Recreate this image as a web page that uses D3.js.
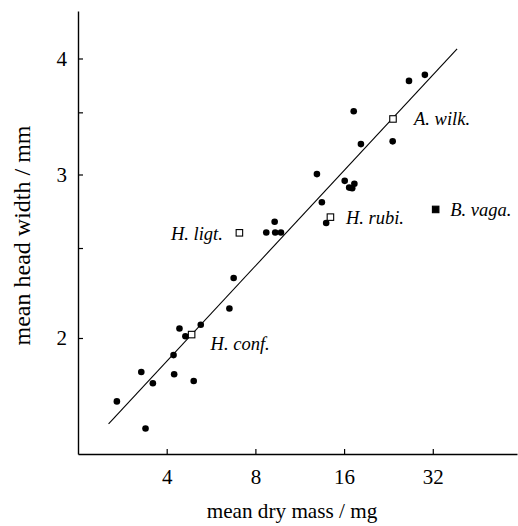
<!DOCTYPE html>
<html><head><meta charset="utf-8">
<script src="https://cdn.jsdelivr.net/npm/d3@7"></script>
<style>
body{margin:0;background:#fff;}
svg{display:block;font-family:"Liberation Serif","Times New Roman",serif;}
</style></head>
<body>
<svg id="chart" width="518" height="526"></svg>
<script>
// species means (filled dots)
const dotMass  = [2.71,3.39,3.28,3.59,4.24,4.94,4.22,4.42,4.63,5.22,6.53,6.75,8.71,9.34,9.77,9.30,13.45,13.91,12.94,16.08,16.65,17.05,17.34,17.25,18.25,23.39,26.57,30.08];
const dotWidth = [1.709,1.598,1.838,1.788,1.828,1.798,1.917,2.048,2.009,2.067,2.152,2.321,2.598,2.598,2.598,2.668,2.800,2.660,3.003,2.953,2.904,2.900,2.932,3.510,3.235,3.257,3.784,3.841];
// labelled species
const namedLabels = ["H. conf.","H. ligt.","H. rubi.","A. wilk.","B. vaga."];
const namedMass   = [4.86,7.06,14.38,23.45,32.73];
const namedWidth  = [2.017,2.596,2.699,3.443,2.751];
const namedFilled = [false,false,false,false,true];
// fitted line endpoints
const fitMass  = [2.54,38.7];
const fitWidth = [1.616,4.097];
// axes
const xTicks = [4,8,16,32];
const yTicks = [2,2.5,3,3.5,4];
const yLabelled = [2,3,4];
const xTitle = "mean dry mass / mg";
const yTitle = "mean head width / mm";

const svg = d3.select("#chart");
const x = d3.scaleLog().base(2).domain([2,61.8]).range([78,517]);
const y = d3.scaleLog().domain([1.5,4.5]).range([454,11]);

const xAxis = d3.axisBottom(x).tickValues(xTicks).tickFormat(d3.format("d"))
  .tickSizeInner(-5).tickSizeOuter(0).tickPadding(15);
const gx = svg.append("g").attr("transform","translate(0,454)").call(xAxis);
const yAxis = d3.axisLeft(y).tickValues(yTicks)
  .tickFormat(d => yLabelled.includes(d) ? d3.format("d")(d) : "")
  .tickSizeInner(-5).tickSizeOuter(0).tickPadding(11);
const gy = svg.append("g").attr("transform","translate(78,0)").call(yAxis);
[gx,gy].forEach(g=>{
  g.selectAll("path.domain").attr("stroke","#000").attr("stroke-width",1.4);
  g.selectAll(".tick line").attr("stroke","#000").attr("stroke-width",1.2);
  g.selectAll(".tick text").attr("font-family","Liberation Serif, serif").attr("font-size",21).attr("fill","#000");
});

svg.append("text").attr("x",292).attr("y",518).attr("text-anchor","middle")
  .attr("font-size",21.2).text(xTitle);
svg.append("text").attr("transform","translate(30,235.5) rotate(-90)").attr("text-anchor","middle")
  .attr("font-size",24).text(yTitle);

// fitted line
const fit = fitMass.map((m,i)=>[m,fitWidth[i]]);
svg.append("path").datum(fit)
  .attr("d", d3.line().x(d=>x(d[0])).y(d=>y(d[1])))
  .attr("fill","none").attr("stroke","#000").attr("stroke-width",1.1);

// dots
svg.append("g").selectAll("circle").data(dotMass.map((m,i)=>[m,dotWidth[i]]))
  .join("circle").attr("cx",d=>x(d[0])).attr("cy",d=>y(d[1])).attr("r",3.3).attr("fill","#000");

// named squares
const named = namedLabels.map((l,i)=>({l,m:namedMass[i],w:namedWidth[i],f:namedFilled[i]}));
const sq = 6.5;
svg.append("g").selectAll("rect").data(named).join("rect")
  .attr("x",d=>x(d.m)-sq/2).attr("y",d=>y(d.w)-sq/2).attr("width",sq).attr("height",sq)
  .attr("fill",d=>d.f?"#000":"#fff").attr("stroke","#000").attr("stroke-width",1.1);

// label placement (offset from marker, anchor)
const labelPlace = {"H. conf.":[19,15,"start"],"H. ligt.":[-16.5,7,"end"],"H. rubi.":[15.5,7,"start"],"A. wilk.":[21,6.5,"start"],"B. vaga.":[14.5,7,"start"]};
svg.append("g").selectAll("text").data(named).join("text")
  .attr("x",d=>x(d.m)+labelPlace[d.l][0]).attr("y",d=>y(d.w)+labelPlace[d.l][1])
  .attr("text-anchor",d=>labelPlace[d.l][2])
  .attr("font-style","italic").attr("font-size",18.5).text(d=>d.l);
</script>
</body></html>
